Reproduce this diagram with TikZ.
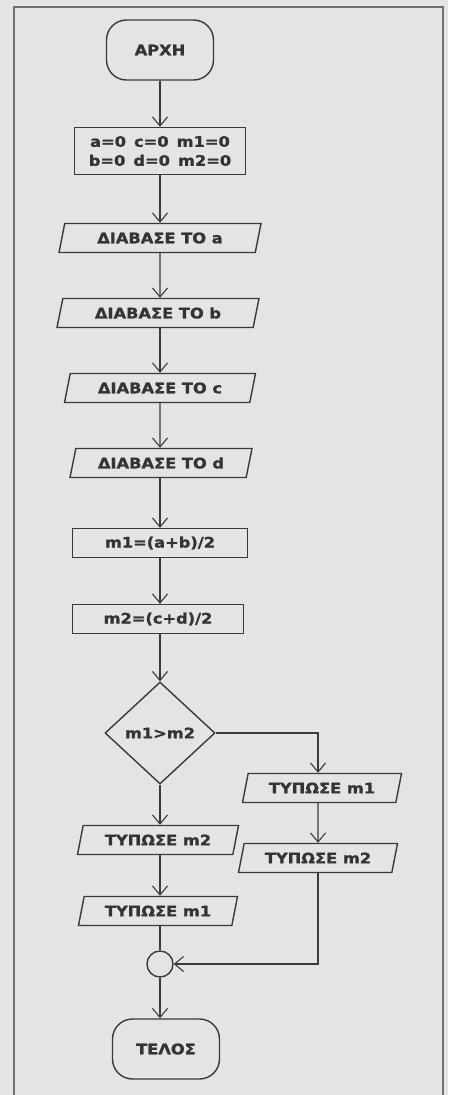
\documentclass[tikz,border=0pt]{standalone}
\usepackage{fontspec}
\setsansfont{DejaVu Sans}[FakeStretch=1.12, BoldFeatures={FakeBold=1.4}]
\usetikzlibrary{shapes.geometric,arrows.meta,positioning,calc}
\definecolor{PaperGray}{HTML}{E3E5E5}
\definecolor{InkGray}{HTML}{3A3A3A}
\definecolor{FrameGray}{HTML}{707070}

\begin{document}
\begin{tikzpicture}[x=1pt, y=-1pt,
    flowfont/.style={font=\sffamily\bfseries\fontsize{14.5}{19}\selectfont, text=InkGray!90!black},
    termnode/.style={flowfont, draw=InkGray, line width=1.4pt, rounded corners=20pt, minimum width=107pt, minimum height=60pt},
    procnode/.style={flowfont, draw=InkGray, line width=1.4pt, rectangle, align=center, minimum height=29pt},
    ionode/.style={flowfont, draw=InkGray, line width=1.4pt, trapezium, trapezium left angle=69, trapezium right angle=111, trapezium stretches body, minimum height=29pt, inner ysep=2pt},
    decnode/.style={flowfont, draw=InkGray, line width=1.4pt, diamond, minimum width=110pt, minimum height=102pt, inner sep=0pt},
    joinnode/.style={draw=InkGray, line width=1.4pt, circle, minimum size=26pt, inner sep=0pt},
    link/.style={draw=InkGray, line width=1.1pt},
    arr/.style={link, -{Straight Barb[length=9pt,width=15pt]}}
  ]
    \useasboundingbox (0,0) rectangle (448,1095);
    \fill[PaperGray] (0,0) rectangle (448,1095);
    \draw[FrameGray, line width=1.6pt] (14,1095) -- (14,7) -- (443,7) -- (443,1095);

    \node[termnode] (start) at (160,50) {ΑΡΧΗ};
    \node[procnode, minimum width=171pt, minimum height=47pt, inner xsep=2pt] (init) at (160,151) {a=0\ \,c=0\ \,m1=0\\b=0\ \,d=0\ \,m2=0};
    \node[ionode, minimum width=202pt] (rda) at (160,238) {ΔΙΑΒΑΣΕ ΤΟ a};
    \node[ionode, minimum width=202pt] (rdb) at (158,313) {ΔΙΑΒΑΣΕ ΤΟ b};
    \node[ionode, minimum width=191pt] (rdc) at (160,388) {ΔΙΑΒΑΣΕ ΤΟ c};
    \node[ionode, minimum width=182pt] (rdd) at (161,463) {ΔΙΑΒΑΣΕ ΤΟ d};
    \node[procnode, minimum width=175pt] (calcm1) at (160,543) {m1=(a+b)/2};
    \node[procnode, minimum width=171pt] (calcm2) at (158,619) {m2=(c+d)/2};
    \node[decnode] (test) at (160,733) {m1>m2};

    \node[ionode, minimum width=159pt] (prym1) at (322,788) {ΤΥΠΩΣΕ m1};
    \node[ionode, minimum width=159pt] (prym2) at (318,858) {ΤΥΠΩΣΕ m2};
    \node[ionode, minimum width=161pt] (prnm2) at (158,840) {ΤΥΠΩΣΕ m2};
    \node[ionode, minimum width=159pt] (prnm1) at (158,911) {ΤΥΠΩΣΕ m1};

    \node[joinnode] (merge) at (160,964) {};
    \node[termnode] (finish) at (166,1049) {ΤΕΛΟΣ};

    \draw[arr] (start) -- (init);
    \draw[arr] (init) -- (init |- rda.north);
    \draw[arr] (rda) -- (rda |- rdb.north);
    \draw[arr] (rdb.south -| rda) -- (rda |- rdc.north);
    \draw[arr] (rdc) -- (rdc |- rdd.north);
    \draw[arr] (rdd.south -| rdc) -- (rdc |- calcm1.north);
    \draw[arr] (calcm1) -- (calcm1 |- calcm2.north);
    \draw[arr] (calcm2.south -| test) -- (test);
    \draw[arr] (test.east) -| (prym1.north -| 318,0);
    \draw[arr] (prym1.south -| 318,0) -- (prym2.north);
    \draw[arr] (test) -- (test |- prnm2.north);
    \draw[arr] (prnm2.south -| test) -- (test |- prnm1.north);
    \draw[link] (prnm1.south -| test) -- (merge);
    \draw[arr] (prym2.south) |- (merge.east);
    \draw[arr] (merge) -- (merge |- finish.north);
  \end{tikzpicture}
\end{document}
